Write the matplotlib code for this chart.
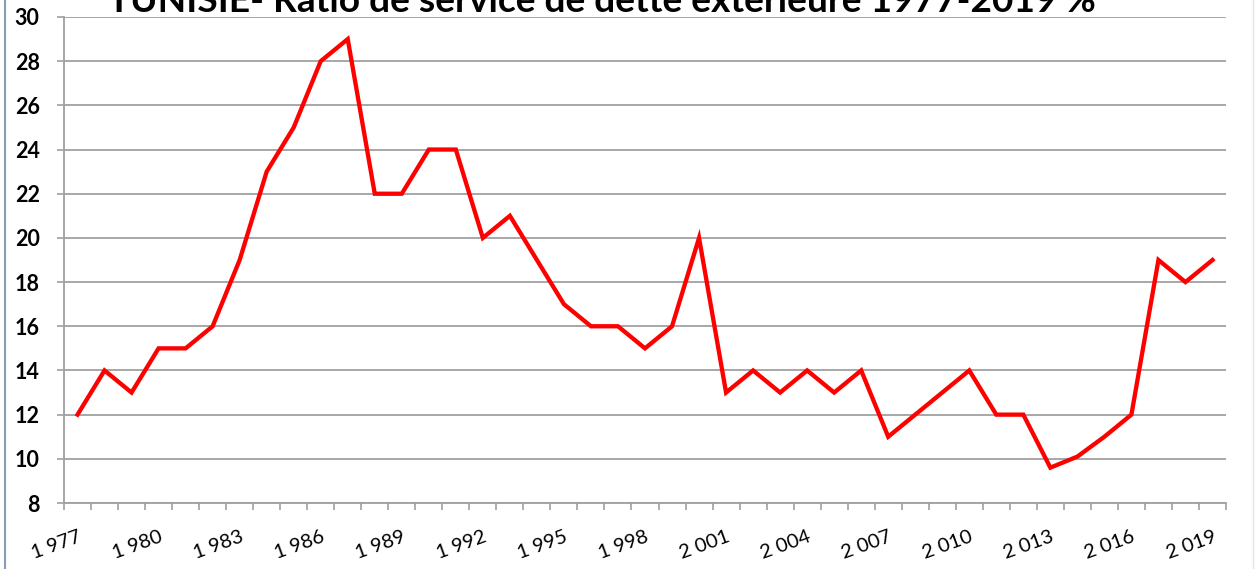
import matplotlib
matplotlib.use("Agg")
import matplotlib.pyplot as plt
from matplotlib.ticker import FixedLocator, NullFormatter
from matplotlib.lines import Line2D

fam = ['Lato', 'DejaVu Sans']
plt.rcParams['font.family'] = fam

years = list(range(1977, 2020))
ratio = [12, 14, 13, 15, 15, 16, 19, 23, 25, 28, 29,
         22, 22, 24, 24, 20, 21, 19, 17, 16, 16,
         15, 16, 20, 13, 14, 13, 14, 13, 14, 11,
         12, 13, 14, 12, 12, 9.6, 10.1, 11, 12,
         19, 18, 19]
title = "TUNISIE- Ratio de service de dette extérieure 1977-2019 %"
yticks = list(range(8, 31, 2))
label_years = years[::3]

W, H = 1255, 569
fig = plt.figure(figsize=(W / 100, H / 100), dpi=100)

L, R, T, B = 64, 1226, 17, 503
ax = fig.add_axes([L / W, (H - B) / H, (R - L) / W, (B - T) / H])

x = list(range(len(years)))
ax.plot(x, ratio, color='#ff0000', lw=3.1, solid_joinstyle='miter', zorder=3)

ax.set_xlim(-0.5, len(years) - 0.5)
ax.set_ylim(8, 30)

gridc = '#a0a0a0'
ax.yaxis.set_major_locator(FixedLocator(yticks))
ax.set_yticklabels([str(v) for v in yticks], fontweight='bold', fontsize=15.5)
ax.yaxis.grid(True, color=gridc, lw=1.3)
ax.set_axisbelow(True)
ax.tick_params(axis='y', length=5, width=1.2, color=gridc, pad=12.5, labelsize=15.5)

# x: minor ticks at category boundaries, labels every 3 years
ax.xaxis.set_minor_locator(FixedLocator([i - 0.5 for i in range(len(years) + 1)]))
ax.xaxis.set_minor_formatter(NullFormatter())
major = [years.index(y) for y in label_years]
ax.set_xticks(major)
ax.set_xticklabels([f"{y // 1000} {y % 1000:03d}" for y in label_years],
                   rotation=20, ha='right', va='top', rotation_mode='anchor', fontsize=14.5)
ax.tick_params(axis='x', which='major', length=0, pad=18, labelsize=14.5)
ax.tick_params(axis='x', which='minor', length=5, width=1.2, color=gridc)

for s in ['top', 'right']:
    ax.spines[s].set_visible(False)
for s in ['left', 'bottom']:
    ax.spines[s].set_color(gridc)
    ax.spines[s].set_linewidth(1.3)

# title, scaled to span the reference width (cut at the top as in the reference)
t = fig.text(602 / W, 1 - 12 / H, title, ha='center', va='baseline',
             fontweight='bold', fontsize=22)
fig.canvas.draw()
w = t.get_window_extent().width
t.set_fontsize(22 * 988 / w)

for tk in ax.yaxis.get_major_ticks():
    tk.label1.set_fontweight('bold')

# frame borders
fig.add_artist(Line2D([5 / W, 5 / W], [0, 1], color='#8a9bb5', lw=1.5, transform=fig.transFigure))
fig.add_artist(Line2D([1253 / W, 1253 / W], [0, 1], color='#e4e4e4', lw=1, transform=fig.transFigure))

fig.savefig('out.png', dpi=100)
